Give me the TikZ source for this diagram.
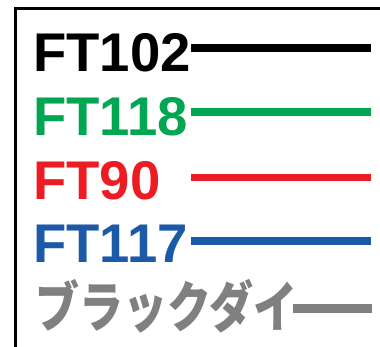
\documentclass[tikz,border=0pt]{standalone}
\usepackage{fontspec}
\setmainfont{Liberation Sans}
\newfontfamily\cjk{Noto Sans CJK JP}
\definecolor{cblack}{RGB}{0,0,0}
\definecolor{cgreen}{RGB}{0,166,81}
\definecolor{cred}{RGB}{237,28,36}
\definecolor{cblue}{RGB}{28,89,166}
\definecolor{cgray}{RGB}{128,128,128}
\tikzset{
  lab/.style={anchor=base west, inner sep=0pt, font=\fontsize{54.5bp}{60bp}\selectfont\bfseries},
  legline/.style={line width=7.6bp, line cap=butt},
}
\begin{document}
\begin{tikzpicture}[x=1bp,y=-1bp]
\useasboundingbox (0,0) rectangle (380,347);
\draw[line width=3.4bp] (15.7,350) -- (15.7,8.3) -- (383,8.3);
\node[lab, text=cblack] (t1) at (33,71) {FT102};
\node[lab, text=cgreen] (t2) at (33,135) {FT118};
\node[lab, text=cred] (t3) at (33,199) {FT90};
\node[lab, text=cblue] (t4) at (33,262.3) {FT117};
\node[anchor=base west, inner sep=0pt, text=cgray, xscale=0.8, font=\cjk\bfseries\fontsize{55bp}{60bp}\selectfont] (t5) at (35,327) {ブラックダイ};
\coordinate (a1) at (191,48); \coordinate (b1) at (371,48);
\coordinate (a2) at (191,112); \coordinate (b2) at (371,112);
\coordinate (a3) at (191,177.5); \coordinate (b3) at (371,177.5);
\coordinate (a4) at (191,241); \coordinate (b4) at (371,241);
\coordinate (a5) at (293,308.3); \coordinate (b5) at (371.5,308.3);
\draw[legline, cblack] (a1) -- (b1);
\draw[legline, cgreen] (a2) -- (b2);
\draw[legline, cred] (a3) -- (b3);
\draw[legline, cblue] (a4) -- (b4);
\draw[legline, cgray, line width=8.6bp] (a5) -- (b5);
\end{tikzpicture}
\end{document}
